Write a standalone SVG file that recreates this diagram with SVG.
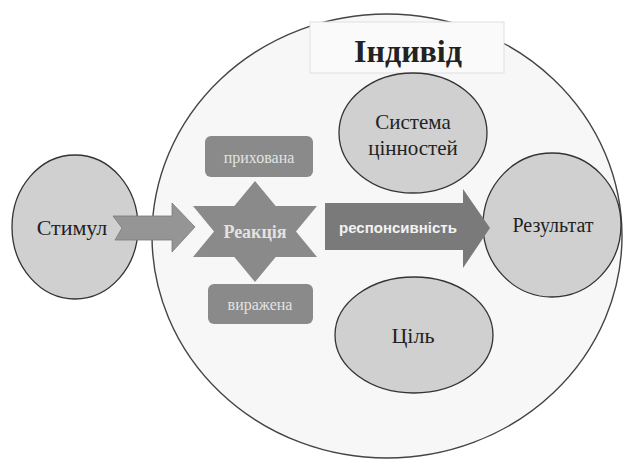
<svg xmlns="http://www.w3.org/2000/svg" width="624" height="459" viewBox="0 0 624 459">
<style>
.ell{fill:#d0d0d0;stroke:#333;stroke-width:1.3}
.lbl{font-family:"Liberation Serif",serif;fill:#222;text-anchor:middle}
.dk{fill:#8a8a8a}
.lt{font-family:"Liberation Serif",serif;fill:#e2e2e2;text-anchor:middle}
</style>
<rect width="624" height="459" fill="#ffffff"/>
<g id="individ">
<ellipse cx="387" cy="236" rx="235" ry="222" fill="#f7f7f7" stroke="#444" stroke-width="1.4"/>
<rect x="310" y="22" width="194" height="51" fill="#fafafa" stroke="#e0e0e0" stroke-width="1"/>
<text x="408" y="62" class="lbl" font-size="32" font-weight="bold">Індивід</text>
</g>
<g id="stimul">
<ellipse cx="75" cy="227" rx="63" ry="72" class="ell"/>
<text x="72" y="235" class="lbl" font-size="22">Стимул</text>
</g>
<g id="systema">
<ellipse cx="413" cy="133" rx="74" ry="60" class="ell"/>
<text x="413" y="129" class="lbl" font-size="21">Система</text>
<text x="413" y="155" class="lbl" font-size="21">цінностей</text>
</g>
<g id="rezultat">
<ellipse cx="552" cy="225" rx="69" ry="72" class="ell"/>
<text x="553" y="232" class="lbl" font-size="20">Результат</text>
</g>
<g id="cil">
<ellipse cx="414" cy="335" rx="79" ry="58" class="ell"/>
<text x="413" y="343" class="lbl" font-size="22">Ціль</text>
</g>
<g id="prykhovana">
<rect x="205" y="136" width="108" height="41" rx="6" class="dk"/>
<text x="259" y="163" class="lt" font-size="16">прихована</text>
</g>
<g id="vyrazhena">
<rect x="208" y="284" width="105" height="40" rx="6" class="dk"/>
<text x="260" y="310" class="lt" font-size="16">виражена</text>
</g>
<g id="reakciya">
<polygon class="dk" points="255,181 275.7,206 317,206 296,231.5 317,257 275.7,257 255,282 234.3,257 193,257 214,231.5 193,206 234.3,206"/>
<text x="255" y="238" class="lt" font-size="18" font-weight="bold" fill="#eeeeee">Реакція</text>
</g>
<g id="connectors">
<polygon points="113,216 172,216 172,203 195,227 172,252 172,240 115,240 122,228" fill="#959595" stroke="#7a7a7a" stroke-width="0.8"/>
<polygon points="325,203 463,203 463,189 490,228 463,268 463,250 325,250" fill="#7a7a7a"/>
<text x="398" y="233" font-family="'Liberation Sans',sans-serif" font-size="15" font-weight="bold" fill="#f2f2f2" text-anchor="middle">респонсивність</text>
</g>
</svg>
